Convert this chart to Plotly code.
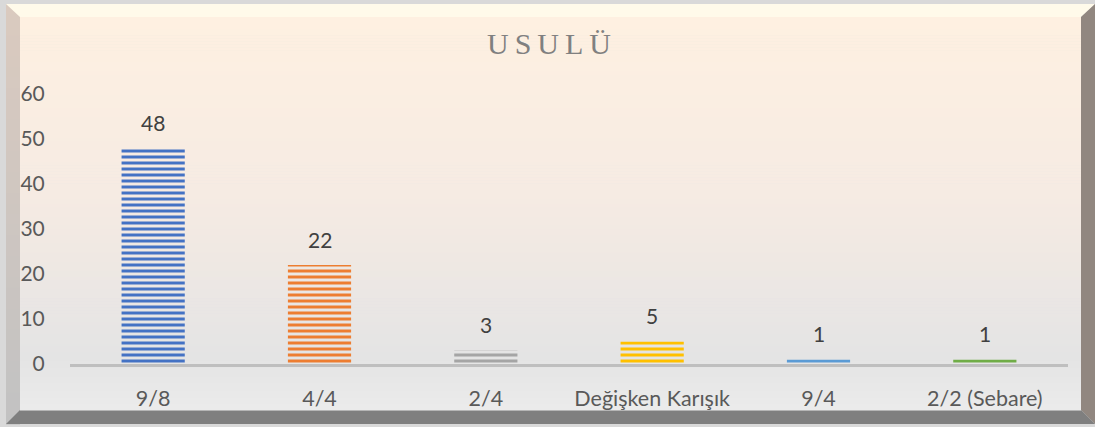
import plotly.graph_objects as go

# Chart data
categories = ["9/8", "4/4", "2/4", "Değişken Karışık", "9/4", "2/2 (Sebare)"]
values = [48, 22, 3, 5, 1, 1]
bar_colors = ["#4472C4", "#ED7D31", "#A5A5A5", "#FFC000", "#5B9BD5", "#70AD47"]
bar_bg_colors = ["#CFDAF0", "#FBD8C0", "#E0E0E0", "#FFEDB3", "#C9DDF1", "#D4E8C6"]
y_ticks = [0, 10, 20, 30, 40, 50, 60]
title_text = "U\u2009S\u2009U\u2009L\u2009Ü"

W, H = 1095, 427


def px(x):
    return x / W


def py(y):
    return 1 - y / H


def lerp_color(c1, c2, t):
    a = [int(c1[i:i + 2], 16) for i in (1, 3, 5)]
    b = [int(c2[i:i + 2], 16) for i in (1, 3, 5)]
    return "rgb({},{},{})".format(*[round(a[k] + (b[k] - a[k]) * t) for k in range(3)])


def gradient(stops, t):
    for (t0, c0), (t1, c1) in zip(stops, stops[1:]):
        if t <= t1:
            return lerp_color(c0, c1, (t - t0) / (t1 - t0) if t1 > t0 else 0)
    return stops[-1][1]


def poly(points, color):
    path = "M " + " L ".join(f"{px(x):.5f},{py(y):.5f}" for x, y in points) + " Z"
    return dict(type="path", xref="paper", yref="paper", path=path,
                fillcolor=color, line=dict(width=0), layer="below")


shapes = []

# Outer frame: left bevel in vertical bands
left_stops = [(0, "#DACABF"), (1, "#C2C2C2")]
n = 40
y0, y1 = 4, 424
for i in range(n):
    ya = y0 + (y1 - y0) * i / n
    yb = y0 + (y1 - y0) * (i + 1) / n + 0.6
    shapes.append(poly([(6, ya), (20, ya), (20, yb), (6, yb)], gradient(left_stops, i / (n - 1))))

# Top, right and bottom bevels
shapes.append(poly([(6, 4), (1095, 4), (1081, 17), (20, 17)], "#FFFAEA"))
shapes.append(poly([(1095, 4), (1095, 424), (1081, 410), (1081, 17)], "#918780"))
shapes.append(poly([(6, 424), (20, 410), (1081, 410), (1095, 424)], "#7F7F7F"))

# Inner face: cream at the top fading to light grey
face_stops = [(0, "#FEF0E1"), (0.45, "#F6EBE3"), (0.87, "#E4E4E4"), (1, "#EBEBEB")]
n = 130
y0, y1 = 17, 410
for i in range(n):
    ya = y0 + (y1 - y0) * i / n
    yb = y0 + (y1 - y0) * (i + 1) / n + 0.6
    shapes.append(poly([(20, ya), (1081, ya), (1081, yb), (20, yb)], gradient(face_stops, i / (n - 1))))

fig = go.Figure()
fig.add_trace(go.Bar(
    x=categories,
    y=values,
    marker=dict(
        color=bar_colors,
        line=dict(width=0),
        pattern=dict(shape="-", fgcolor=bar_colors, bgcolor=bar_bg_colors,
                     fgopacity=1, size=6, solidity=0.5, fillmode="replace"),
    ),
    hoverinfo="skip",
))

# Value labels above each bar
annotations = [
    dict(x=c, y=v, xref="x", yref="y", text=str(v), showarrow=False,
         yanchor="middle", yshift=26,
         font=dict(family="Lato", size=21, color="#404040"))
    for c, v in zip(categories, values)
]
annotations.append(dict(
    x=px(549), y=py(43), xref="paper", yref="paper", text=title_text,
    showarrow=False, xanchor="center", yanchor="middle",
    font=dict(family="Liberation Serif", size=30, color="#808080"),
))

fig.update_layout(
    width=W, height=H,
    margin=dict(l=0, r=0, t=0, b=0, autoexpand=False),
    paper_bgcolor="#D9D9D9",
    plot_bgcolor="rgba(0,0,0,0)",
    shapes=shapes,
    annotations=annotations,
    bargap=0.62,
    showlegend=False,
    xaxis=dict(
        domain=[px(70), px(1068)],
        automargin=False,
        showline=True, linecolor="#BFBFBF", linewidth=3,
        showgrid=False, zeroline=False,
        ticks="outside", ticklen=13, tickcolor="rgba(0,0,0,0)",
        tickfont=dict(family="Lato", size=21.5, color="#595959"),
    ),
    yaxis=dict(
        domain=[py(364), py(94)],
        automargin=False,
        range=[0, 60],
        tickvals=y_ticks,
        showline=False, showgrid=False, zeroline=False,
        ticks="outside", ticklen=20, tickcolor="rgba(0,0,0,0)",
        tickfont=dict(family="Lato", size=21, color="#595959"),
    ),
)

fig.write_html("out.html")
